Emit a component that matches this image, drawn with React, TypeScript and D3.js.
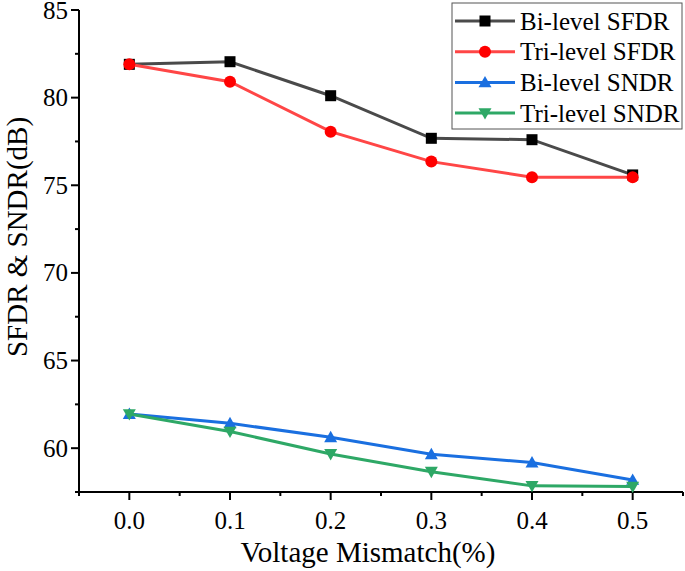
import React from "react";
import * as d3 from "d3";

const mismatch = [0.0, 0.1, 0.2, 0.3, 0.4, 0.5];
const biSFDR = [81.9, 82.05, 80.11, 77.68, 77.6, 75.59];
const triSFDR = [81.9, 80.91, 78.06, 76.35, 75.46, 75.46];
const biSNDR = [61.95, 61.42, 60.62, 59.65, 59.18, 58.19];
const triSNDR = [61.95, 60.95, 59.67, 58.66, 57.85, 57.81];
const xTicks = [0.0, 0.1, 0.2, 0.3, 0.4, 0.5];
const yTicks = [60, 65, 70, 75, 80, 85];
const seriesNames = ["Bi-level SFDR", "Tri-level SFDR", "Bi-level SNDR", "Tri-level SNDR"];

const W = 685, H = 571;
const FF = "Liberation Serif";

export default function App() {
  const x = d3.scaleLinear().domain([-0.05, 0.55]).range([79, 683]);
  const y = d3.scaleLinear().domain([57.5, 85]).range([492, 10]);
  const line = d3.line<number>().x((_, i) => x(mismatch[i])).y((d) => y(d));

  const series = [
    { name: seriesNames[0], data: biSFDR, stroke: "#4a4a4a", fill: "#000000", shape: "square" },
    { name: seriesNames[1], data: triSFDR, stroke: "#ff4646", fill: "#ff0000", shape: "circle" },
    { name: seriesNames[2], data: biSNDR, stroke: "#1a6fe0", fill: "#1a6fe0", shape: "up" },
    { name: seriesNames[3], data: triSNDR, stroke: "#2ea866", fill: "#2ea866", shape: "down" },
  ];

  const marker = (shape: string, cx: number, cy: number, fill: string, key: any) => {
    if (shape === "square") return <rect key={key} x={cx - 5.5} y={cy - 5.5} width={11} height={11} fill={fill} />;
    if (shape === "circle") return <circle key={key} cx={cx} cy={cy} r={6} fill={fill} />;
    const s = 6.5;
    if (shape === "up")
      return <path key={key} d={`M${cx},${cy - s}L${cx + s},${cy + s * 0.75}L${cx - s},${cy + s * 0.75}Z`} fill={fill} />;
    return <path key={key} d={`M${cx},${cy + s}L${cx + s},${cy - s * 0.75}L${cx - s},${cy - s * 0.75}Z`} fill={fill} />;
  };

  const xMinor = d3.range(-0.05, 0.5501, 0.1);
  const yMinor = d3.range(57.5, 85, 5);

  return (
    <svg width={W} height={H} style={{ position: "absolute", left: 0, top: 0, background: "#fff" }}>
      {/* axes */}
      <line x1={79} x2={79} y1={10} y2={492} stroke="#000" strokeWidth={2} />
      <line x1={78} x2={683} y1={492} y2={492} stroke="#000" strokeWidth={2} />
      {yTicks.map((t) => (
        <g key={"y" + t}>
          <line x1={71} x2={79} y1={y(t)} y2={y(t)} stroke="#000" strokeWidth={2} />
          <text x={68} y={y(t) + 8.5} textAnchor="end" fontSize={25} fontFamily={FF}>{t}</text>
        </g>
      ))}
      {yMinor.map((t) => (
        <line key={"ym" + t} x1={75} x2={79} y1={y(t)} y2={y(t)} stroke="#000" strokeWidth={2} />
      ))}
      {xTicks.map((t) => (
        <g key={"x" + t}>
          <line x1={x(t)} x2={x(t)} y1={492} y2={500} stroke="#000" strokeWidth={2} />
          <text x={x(t)} y={529} textAnchor="middle" fontSize={25} fontFamily={FF}>{t.toFixed(1)}</text>
        </g>
      ))}
      {xMinor.map((t, i) => (
        <line key={"xm" + i} x1={x(t)} x2={x(t)} y1={492} y2={496} stroke="#000" strokeWidth={2} />
      ))}
      <text x={368} y={562} textAnchor="middle" fontSize={29} fontFamily={FF}>Voltage Mismatch(%)</text>
      <text transform={`translate(27,237) rotate(-90)`} textAnchor="middle" fontSize={29} fontFamily={FF}>SFDR &amp; SNDR(dB)</text>

      {/* series */}
      {series.map((s) => (
        <g key={s.name}>
          <path d={line(s.data) || ""} fill="none" stroke={s.stroke} strokeWidth={3} />
          {s.data.map((v, i) => marker(s.shape, x(mismatch[i]), y(v), s.fill, i))}
        </g>
      ))}

      {/* legend */}
      <rect x={452} y={3} width={230} height={126} fill="#fff" stroke="#555" strokeWidth={1} />
      {series.map((s, i) => {
        const ly = 21 + i * 30.7;
        return (
          <g key={"lg" + i}>
            <line x1={455} x2={515} y1={ly} y2={ly} stroke={s.stroke} strokeWidth={3} />
            {marker(s.shape, 485, ly, s.fill, "m")}
            <text x={520} y={ly + 8.5} fontSize={25} fontFamily={FF}>{s.name}</text>
          </g>
        );
      })}
    </svg>
  );
}
